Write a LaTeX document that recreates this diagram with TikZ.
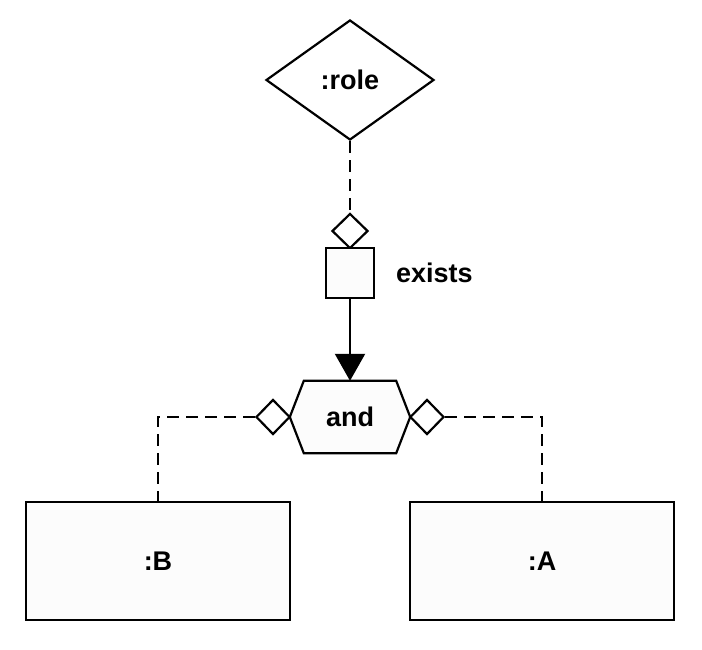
\documentclass[tikz,border=0pt]{standalone}
\usepackage{fontspec}
\setmainfont{Liberation Sans}
\usetikzlibrary{shapes.geometric,arrows.meta}
\definecolor{boxfill}{RGB}{252,252,252}
\tikzset{
  ln/.style={line width=2.2pt, black},
  dsh/.style={ln, dash pattern=on 12pt off 7pt},
  lbl/.style={font=\fontsize{27}{32}\selectfont\bfseries},
  dia/.style={shape=diamond, draw, ln, fill=white, inner sep=0pt},
  obj/.style={draw, ln, fill=boxfill, inner sep=0pt, lbl},
}
\begin{document}
\begin{tikzpicture}[x=1pt,y=-1pt]
\useasboundingbox (0,0) rectangle (702,650);
\node[dia, lbl, minimum width=168pt, minimum height=120pt] (role) at (350,80) {:role};
\node[dia, minimum width=36pt, minimum height=35pt] (d1) at (350,231) {};
\node[obj, minimum width=48pt, minimum height=50pt] (sq) at (350,273) {};
\node[lbl, anchor=west, inner sep=0pt] (ex) at (396,273) {exists};
\node[lbl, minimum width=120pt, minimum height=72pt, inner sep=0pt] (and) at (350,417) {};
\fill[boxfill] (and.west) -- ([xshift=14pt]and.north west) -- ([xshift=-14pt]and.north east) -- (and.east) -- ([xshift=-14pt]and.south east) -- ([xshift=14pt]and.south west) -- cycle;
\draw[ln, line join=miter] (and.west) -- ([xshift=14pt]and.north west) -- ([xshift=-14pt]and.north east) -- (and.east) -- ([xshift=-14pt]and.south east) -- ([xshift=14pt]and.south west) -- cycle;
\node[lbl] at (and.center) {and};
\node[dia, minimum width=34pt, minimum height=35pt] (dl) at (273,417) {};
\node[dia, minimum width=34pt, minimum height=35pt] (dr) at (427,417) {};
\node[obj, minimum width=264pt, minimum height=118pt] (B) at (158,561) {:B};
\node[obj, minimum width=264pt, minimum height=118pt] (A) at (542,561) {:A};
\draw[dsh] (role.south) -- (d1.north);
\draw[ln, -{Triangle[width=30pt,length=27pt]}] (sq.south) -- (and.north);
\draw[dsh] (dl.west) -| (B.north);
\draw[dsh] (dr.east) -| (A.north);
\end{tikzpicture}
\end{document}
